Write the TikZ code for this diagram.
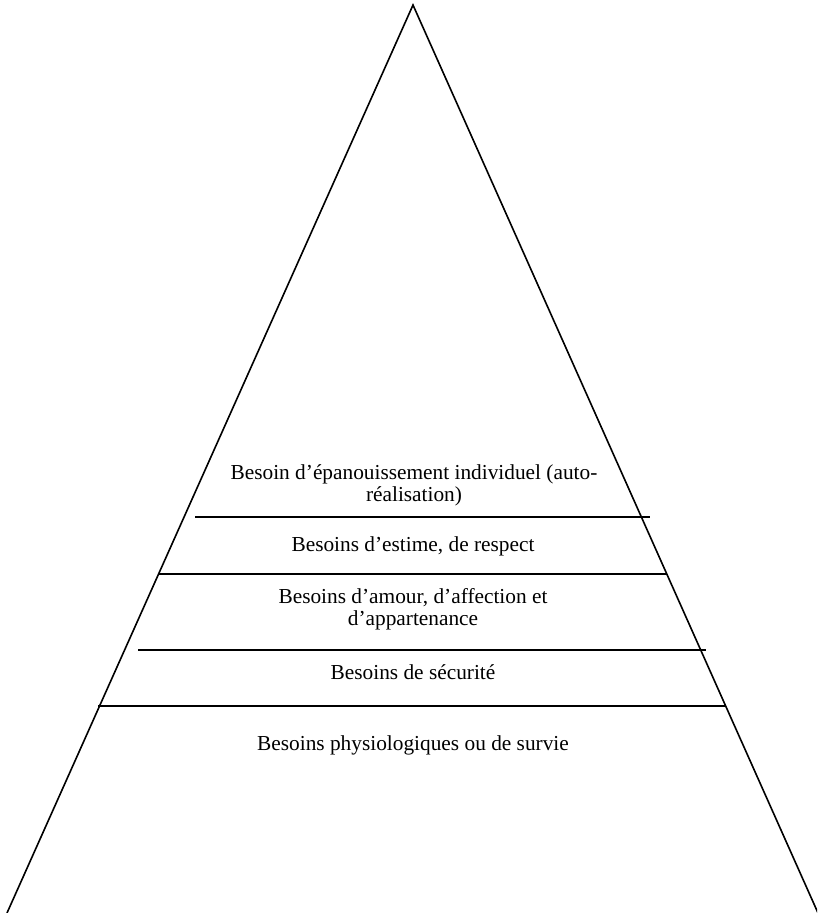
\documentclass[tikz,border=0pt]{standalone}
\usepackage{fontspec}
\setmainfont{Liberation Serif}
\begin{document}
\begin{tikzpicture}[x=0.75pt,y=-0.75pt,
  lbl/.style={font=\fontsize{16}{16.5}\selectfont, align=center, inner sep=0pt},
  edge/.style={line width=1.2pt, line join=miter},
  tier/.style={line width=1.2pt}]
\useasboundingbox (0,0) rectangle (817,913);
\coordinate (apex) at (413,5);
\coordinate (bl) at (7,913);
\coordinate (br) at (818,913);
\begin{scope}
\clip (0,0) rectangle (817,913);
\draw[edge] (bl) -- (apex) -- (br);
\end{scope}
% tier lines
\coordinate (l1a) at (195,517); \coordinate (l1b) at (650,517);
\coordinate (l2a) at (158,574); \coordinate (l2b) at (667,574);
\coordinate (l3a) at (138,650); \coordinate (l3b) at (706,650);
\coordinate (l4a) at (98,706);  \coordinate (l4b) at (725,706);
\draw[tier] (l1a) -- (l1b);
\draw[tier] (l2a) -- (l2b);
\draw[tier] (l3a) -- (l3b);
\draw[tier] (l4a) -- (l4b);
% labels
\node[lbl] (t1) at (414,485) {Besoin d’épanouissement individuel (auto-\\réalisation)};
\node[lbl] (t2) at (413,546) {Besoins d’estime, de respect};
\node[lbl] (t3) at (413,609) {Besoins d’amour, d’affection et\\d’appartenance};
\node[lbl] (t4) at (413,672) {Besoins de sécurité};
\node[lbl] (t5) at (413,745) {Besoins physiologiques ou de survie};
\end{tikzpicture}
\end{document}
